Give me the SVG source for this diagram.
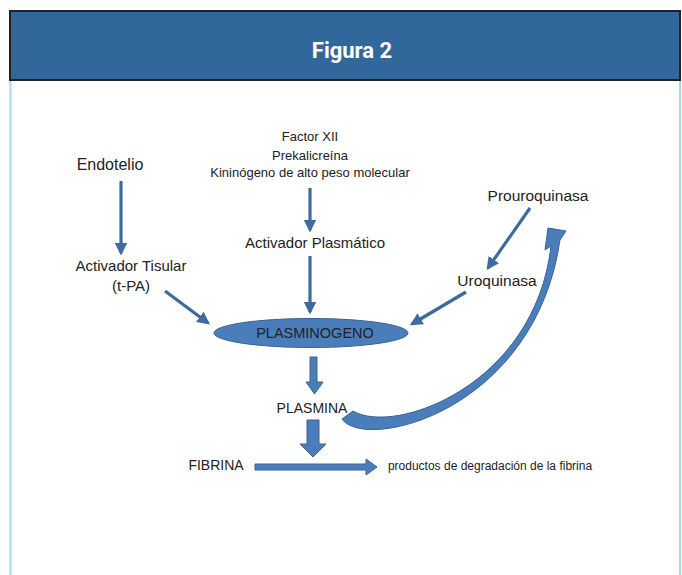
<svg xmlns="http://www.w3.org/2000/svg" width="682" height="575" viewBox="0 0 682 575">
<defs>
<marker id="ah" markerWidth="4" markerHeight="4" refX="3.2" refY="2" orient="auto" markerUnits="strokeWidth">
<path d="M0,0 L4,2 L0,4 Z" fill="#3e6aa0"/>
</marker>
<style>
.t{font-family:"Liberation Sans","Open Sans",Arial,sans-serif;fill:#222;text-anchor:middle}
.ln{stroke:#3e6aa0;stroke-width:3.2;fill:none;marker-end:url(#ah)}
.blk{fill:#4a7ebb;stroke:#3a6396;stroke-width:1}
</style>
</defs>
<rect width="682" height="575" fill="#fff"/>
<line x1="10.5" y1="80" x2="10.5" y2="575" stroke="#a9d9e9" stroke-width="2"/>
<line x1="680" y1="80" x2="680" y2="575" stroke="#a9d9e9" stroke-width="2"/>
<g id="header">
<rect x="10" y="11" width="670" height="69" fill="#31679a" stroke="#222" stroke-width="2"/>
<text x="352" y="58" font-family="Roboto,'Liberation Sans',sans-serif" font-weight="bold" font-size="22" fill="#fff" text-anchor="middle">Figura 2</text>
</g>
<g id="endotelio"><text class="t" x="110" y="170" font-size="16">Endotelio</text></g>
<g id="factores">
<text class="t" x="310" y="141" font-size="13">Factor XII</text>
<text class="t" x="310" y="160" font-size="13">Prekalicreína</text>
<text class="t" x="310" y="177" font-size="13">Kininógeno de alto peso molecular</text>
</g>
<g id="activador-plasmatico"><text class="t" x="315" y="248" font-size="15">Activador Plasmático</text></g>
<g id="activador-tisular">
<text class="t" x="131" y="271" font-size="15">Activador Tisular</text>
<text class="t" x="131" y="291" font-size="15">(t-PA)</text>
</g>
<g id="prouroquinasa"><text class="t" x="538" y="201" font-size="15.5">Prouroquinasa</text></g>
<g id="uroquinasa"><text class="t" x="497" y="286" font-size="15.5">Uroquinasa</text></g>
<g id="plasminogeno">
<ellipse cx="311" cy="333" rx="97" ry="14.5" fill="#4a7ebb" stroke="#3a6396" stroke-width="1"/>
<text class="t" x="315" y="338" font-size="14.5">PLASMINOGENO</text>
</g>
<g id="plasmina"><text class="t" x="312" y="413" font-size="14">PLASMINA</text></g>
<g id="fibrina"><text class="t" x="216" y="470" font-size="14">FIBRINA</text></g>
<g id="productos"><text class="t" x="490" y="470" font-size="12">productos de degradación de la fibrina</text></g>
<g id="connectors">
<line class="ln" x1="121" y1="181" x2="121" y2="253"/>
<line class="ln" x1="310" y1="188" x2="310" y2="230"/>
<line class="ln" x1="310" y1="256" x2="310" y2="312"/>
<line class="ln" x1="165" y1="291" x2="208" y2="323"/>
<line class="ln" x1="530" y1="208" x2="488" y2="268"/>
<line class="ln" x1="466" y1="292" x2="412" y2="324"/>
<path class="blk" d="M310,357 H317 V382 H323 L314.5,394 L306,382 H310 Z"/>
<path class="blk" d="M307,420 H319 V444 H326 L313,457 L300,444 H307 Z"/>
<path class="blk" d="M255,464 H366 V459 L377,467 L366,475 V470 H255 Z"/>
<path class="blk" d="M342,419 C365,452 535,412 560,240 L566,231 L548,228 L545,250 L551,246 C535,385 395,436 353,411 Z"/>
</g>
</svg>
